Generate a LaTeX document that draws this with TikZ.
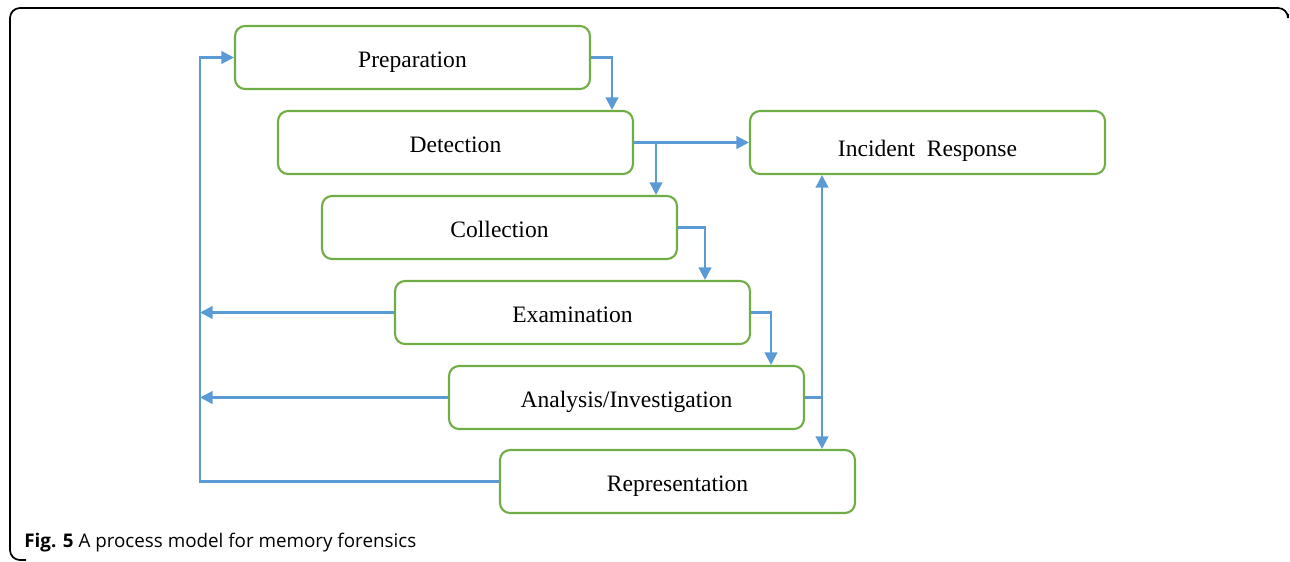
\documentclass[tikz,border=0pt]{standalone}
\usepackage{fontspec}
\setmainfont{Liberation Serif}
\newfontfamily\capfont{Open Sans}
\usepackage{xcolor}
\usetikzlibrary{arrows.meta,calc}
\definecolor{boxgreen}{HTML}{70AD47}
\definecolor{linkblue}{HTML}{5B9BD5}

\begin{document}
\begin{tikzpicture}[x=0.02cm,y=-0.02cm]
      \useasboundingbox(0,0) rectangle (1290,561);
      \tikzset{P/.style = {shape=rectangle, rounded corners=0.2cm, draw=boxgreen, line width=1.2pt,
          minimum width=7.1cm, minimum height=1.26cm, inner sep=0pt, text=black,
          text height=11pt, text depth=0pt, font=\fontsize{13.4}{16}\selectfont}}
      \tikzset{L/.style = {draw=linkblue, line width=1.3pt}}
      \tikzset{E/.style = {L, -{Triangle[length=0.25cm,width=0.25cm]}}}
      \tikzset{EE/.style = {L, {Triangle[length=0.25cm,width=0.25cm]}-{Triangle[length=0.25cm,width=0.25cm]}}}
      % frame
      \draw[line width=1pt, rounded corners=0.2cm] (26,560) -- (10,560) -- (10,8) -- (1288,8) -- (1288,14);
      \node[P](prep) at (412.5,57.5) {Preparation};
      \node[P](det) at (455.5,142.5) {Detection};
      \node[P](coll) at (499.5,227.5) {Collection};
      \node[P](exam) at (572.5,312.5) {Examination};
      \node[P](ana) at (626.5,397.5) {Analysis/Investigation};
      \node[P](rep) at (677.5,481.5) {Representation};
      \node[P,text height=16pt](inc) at (927.5,142.5) {Incident\ \ Response};
      \coordinate (back) at (200,300);
      \coordinate (k) at ($(det.east)+(22,0)$);
      \coordinate (j) at ($(inc.south)+(-105.5,0)$);
      \draw[E](prep.east) -| ($(det.north)+(156.5,0)$);
      \draw[E](det.east) -- (inc.west);
      \draw[E](k) -- (k |- coll.north);
      \draw[E](coll.east) -| ($(exam.north)+(132.5,0)$);
      \draw[E](exam.east) -| ($(ana.north)+(144.5,0)$);
      \draw[EE](j) -- (j |- rep.north);
      \draw[L](ana.east) -- (ana.east -| j);
      \draw[E](rep.west) -| (back) |- (prep.west);
      \draw[E](exam.west) -- (exam.west -| back);
      \draw[E](ana.west) -- (ana.west -| back);
      \node[anchor=base west,inner sep=0pt,font=\capfont\fontsize{10.7}{12}\selectfont](caption) at (24,547)
        {\textbf{Fig. 5} A process model for memory forensics};
\end{tikzpicture}
\end{document}
